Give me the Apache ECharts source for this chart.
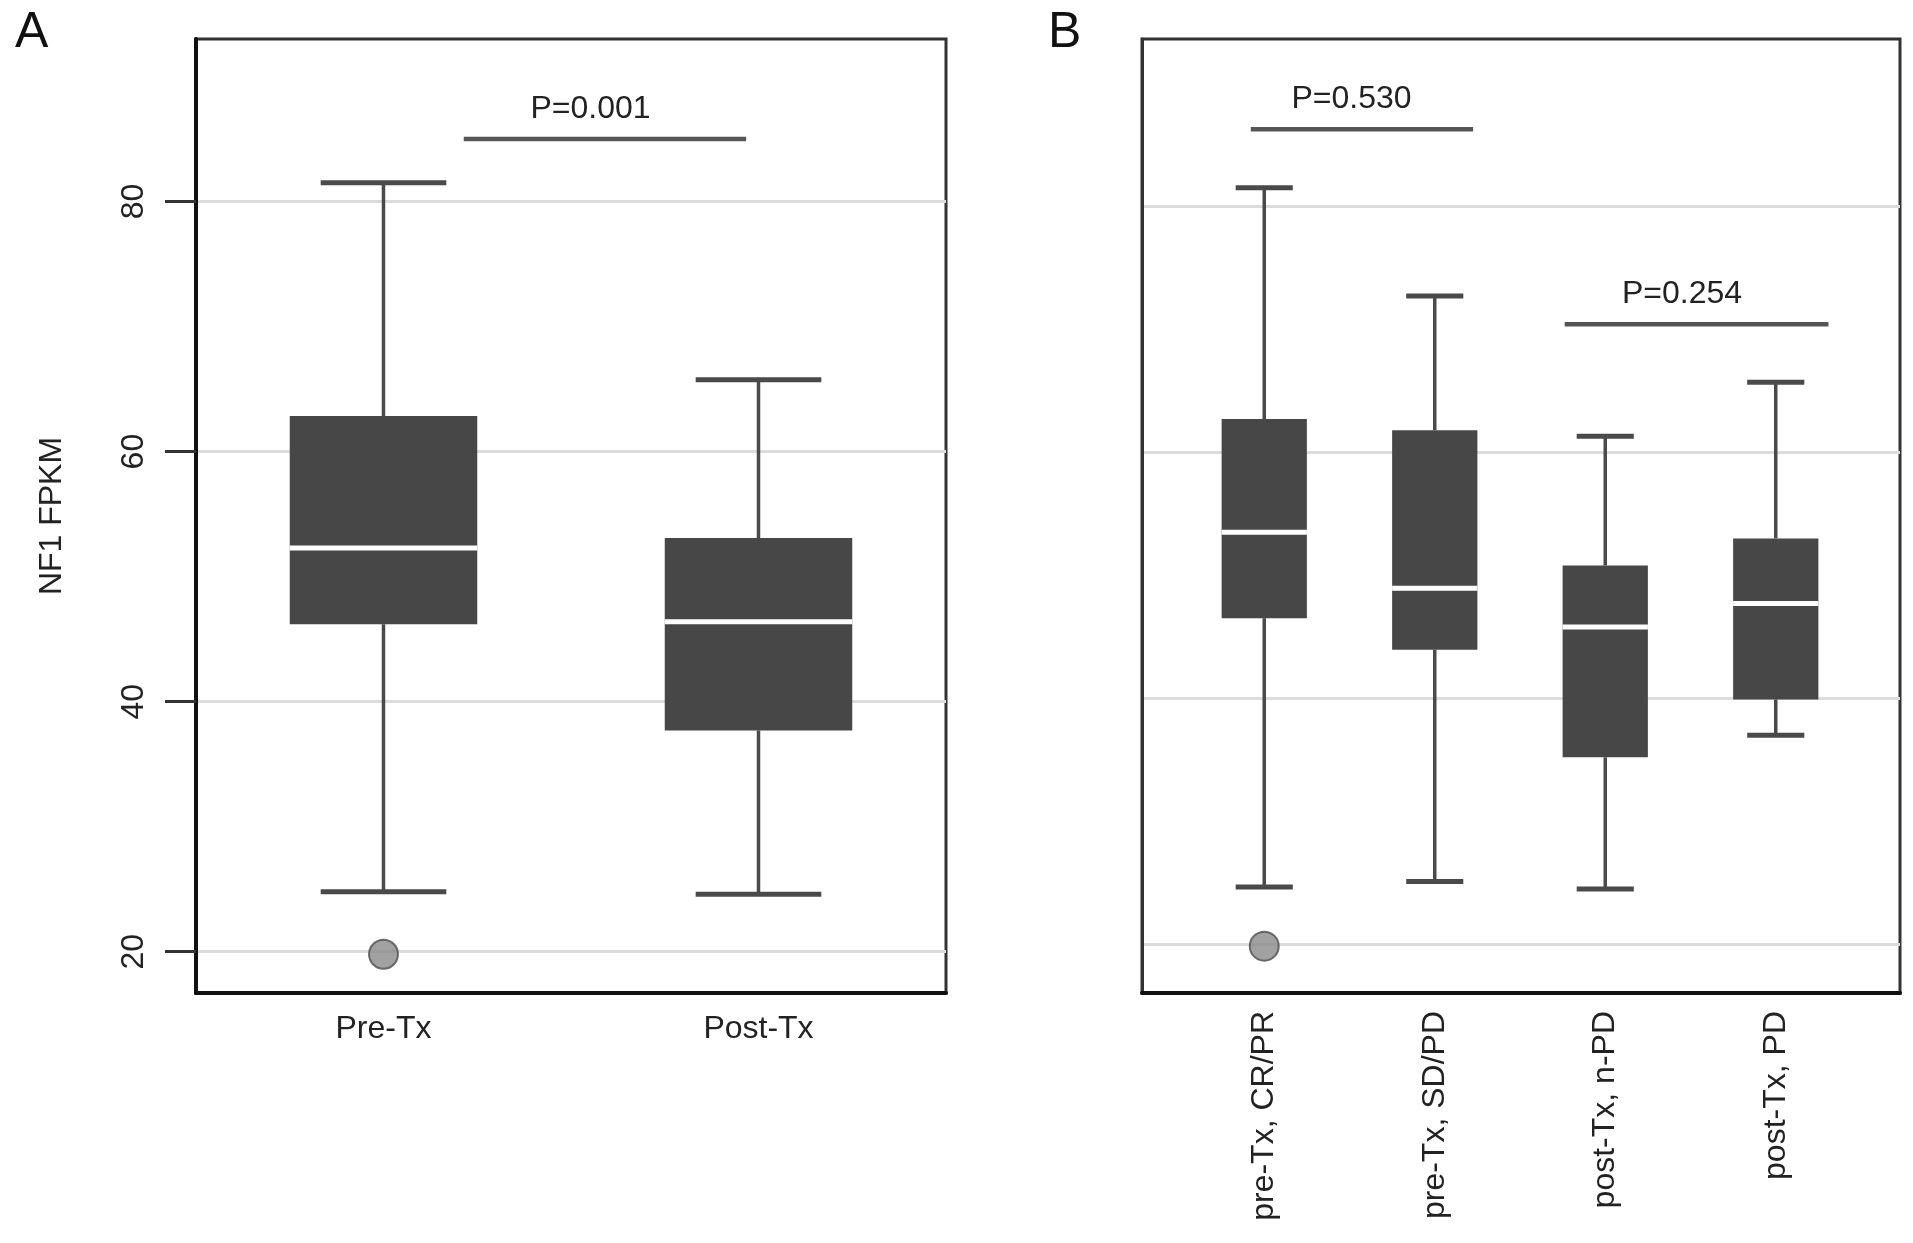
<!DOCTYPE html>
<html><head><meta charset="utf-8">
<script src="https://cdn.jsdelivr.net/npm/echarts@6/dist/echarts.min.js"></script>
<style>html,body{margin:0;padding:0;background:#fff}#c{width:1913px;height:1243px}</style>
</head><body><div id="c"></div>
<script>
// ---------- data ----------
const categoriesA = ['Pre-Tx', 'Post-Tx'];
// [lower whisker, Q1, median, Q3, upper whisker]
const boxesA = [
  [24.8, 46.2, 52.3, 62.85, 81.5],
  [24.6, 37.7, 46.4, 53.1, 65.75]
];
const outliersA = [[0, 19.8]];

const categoriesB = ['pre-Tx, CR/PR', 'pre-Tx, SD/PD', 'post-Tx, n-PD', 'post-Tx, PD'];
const boxesB = [
  [24.65, 46.5, 53.5, 62.7, 81.5],
  [25.1, 43.95, 48.95, 61.8, 72.7],
  [24.5, 35.2, 45.8, 50.8, 61.3],
  [37.0, 39.9, 47.7, 53.0, 65.7]
];
const outliersB = [[0, 19.85]];

const yTicks = [20, 40, 60, 80];

// significance bars: [start (category units), end (category units), y value, label centre (category units)]
const sigA = [[0.214, 0.967, 85.0, 0.552]];
const sigLabelsA = ['P=0.001'];
const sigB = [[-0.079, 1.225, 86.26, 0.512], [1.762, 3.309, 70.4, 2.45]];
const sigLabelsB = ['P=0.530', 'P=0.254'];

// ---------- rendering ----------
const FONT = '"Liberation Sans", Arial, Helvetica, sans-serif';
const DARK = '#474747';
const LINE = '#4a4a4a';

function renderBox(params, api) {
  const i = api.value(0);
  const lo = api.coord([i, api.value(1)]);
  const q1 = api.coord([i, api.value(2)]);
  const md = api.coord([i, api.value(3)]);
  const q3 = api.coord([i, api.value(4)]);
  const hi = api.coord([i, api.value(5)]);
  const band = api.size([1, 0])[0];
  const bw = band * 0.5, cw = band * 0.335;
  const x = lo[0];
  return {
    type: 'group',
    children: [
      { type: 'line', shape: { x1: x, y1: hi[1], x2: x, y2: q3[1] }, style: { stroke: LINE, lineWidth: 3.5 } },
      { type: 'line', shape: { x1: x, y1: q1[1], x2: x, y2: lo[1] }, style: { stroke: LINE, lineWidth: 3.5 } },
      { type: 'line', shape: { x1: x - cw / 2, y1: hi[1], x2: x + cw / 2, y2: hi[1] }, style: { stroke: LINE, lineWidth: 5 } },
      { type: 'line', shape: { x1: x - cw / 2, y1: lo[1], x2: x + cw / 2, y2: lo[1] }, style: { stroke: LINE, lineWidth: 5 } },
      { type: 'rect', shape: { x: x - bw / 2, y: q3[1], width: bw, height: q1[1] - q3[1] }, style: { fill: DARK } },
      { type: 'line', shape: { x1: x - bw / 2, y1: md[1], x2: x + bw / 2, y2: md[1] }, style: { stroke: '#ffffff', lineWidth: 5 } }
    ]
  };
}

function makeSigRenderer(labels) {
  return function (params, api) {
    const y = api.value(1);
    const base = api.coord([0, y]);
    const band = api.size([1, 0])[0];
    const x1 = base[0] + api.value(2) * band;
    const x2 = base[0] + api.value(3) * band;
    const xl = base[0] + api.value(4) * band;
    return {
      type: 'group',
      children: [
        { type: 'line', shape: { x1: x1, y1: base[1], x2: x2, y2: base[1] }, style: { stroke: '#555', lineWidth: 4.5 } },
        { type: 'text', style: { x: xl, y: base[1] - 30, text: labels[params.dataIndex], fill: '#222',
          font: '32px ' + FONT, textAlign: 'center', textVerticalAlign: 'middle', align: 'center', verticalAlign: 'middle' } }
      ]
    };
  };
}

const boxDataA = boxesA.map((b, i) => [i].concat(b));
const boxDataB = boxesB.map((b, i) => [i].concat(b));
const sigDataA = sigA.map(s => [0, s[2], s[0], s[1], s[3]]);
const sigDataB = sigB.map(s => [0, s[2], s[0], s[1], s[3]]);

const chart = echarts.init(document.getElementById('c'), null, { renderer: 'canvas' });

const splitLineStyle = { show: true, lineStyle: { color: '#dcdcdc', width: 3 } };

chart.setOption({
  animation: false,
  backgroundColor: '#ffffff',
  textStyle: { fontFamily: FONT },
  title: [
    { text: 'A', left: 10, top: 3, textStyle: { fontSize: 50, fontWeight: 'normal', color: '#111', fontFamily: FONT } },
    { text: 'B', left: 1043, top: 3, textStyle: { fontSize: 50, fontWeight: 'normal', color: '#111', fontFamily: FONT } }
  ],
  grid: [
    { left: 196, right: 967, top: 39, bottom: 250, show: true, borderColor: '#333', borderWidth: 3, backgroundColor: 'transparent' },
    { left: 1142, right: 13, top: 39, bottom: 250, show: true, borderColor: '#333', borderWidth: 3, backgroundColor: 'transparent' },
    { left: 1179, right: 52, top: 39, bottom: 250, show: false }
  ],
  xAxis: [
    { gridIndex: 0, type: 'category', data: categoriesA,
      axisLine: { show: true, onZero: false, lineStyle: { color: '#111', width: 4 } },
      axisTick: { show: false },
      axisLabel: { fontSize: 32, color: '#222', margin: 20, fontFamily: FONT },
      splitLine: { show: false } },
    { gridIndex: 1, type: 'value', min: 0, max: 1,
      axisLine: { show: true, onZero: false, lineStyle: { color: '#111', width: 4 } },
      axisTick: { show: false }, axisLabel: { show: false }, splitLine: { show: false } },
    { gridIndex: 2, type: 'category', data: categoriesB,
      axisLine: { show: false }, axisTick: { show: false },
      axisLabel: { fontSize: 32, color: '#222', margin: 18, rotate: 90, fontFamily: FONT, interval: 0 },
      splitLine: { show: false } }
  ],
  yAxis: [
    { gridIndex: 0, type: 'value', min: 16.7, max: 93.0,
      name: 'NF1 FPKM', nameLocation: 'middle', nameGap: 128, nameRotate: 90,
      nameTextStyle: { fontSize: 32, color: '#222', fontFamily: FONT },
      axisLine: { show: true, lineStyle: { color: '#111', width: 4 } },
      axisTick: { show: true, length: 31, customValues: yTicks, lineStyle: { color: '#333', width: 3 } },
      axisLabel: { show: true, customValues: yTicks, rotate: 90, margin: 46, fontSize: 32, color: '#222', fontFamily: FONT },
      splitLine: splitLineStyle },
    { gridIndex: 1, type: 'value', min: 16.04, max: 93.6,
      axisLine: { show: true, lineStyle: { color: '#333', width: 3 } },
      axisTick: { show: false, customValues: yTicks },
      axisLabel: { show: false, customValues: yTicks },
      splitLine: splitLineStyle },
    { gridIndex: 2, type: 'value', min: 16.04, max: 93.6, show: false,
      axisLine: { show: false }, axisTick: { show: false }, axisLabel: { show: false }, splitLine: { show: false } }
  ],
  series: [
    { type: 'custom', xAxisIndex: 0, yAxisIndex: 0, renderItem: renderBox, data: boxDataA,
      encode: { x: 0, y: [1, 2, 3, 4, 5] }, z: 3 },
    { type: 'scatter', xAxisIndex: 0, yAxisIndex: 0, data: outliersA, symbol: 'circle', symbolSize: 29,
      itemStyle: { color: '#8a8a8a', borderColor: '#4d4d4d', borderWidth: 2 }, z: 4 },
    { type: 'custom', xAxisIndex: 0, yAxisIndex: 0, renderItem: makeSigRenderer(sigLabelsA), data: sigDataA,
      encode: { x: 0, y: 1 }, z: 3 },
    { type: 'custom', xAxisIndex: 2, yAxisIndex: 2, renderItem: renderBox, data: boxDataB,
      encode: { x: 0, y: [1, 2, 3, 4, 5] }, z: 3 },
    { type: 'scatter', xAxisIndex: 2, yAxisIndex: 2, data: outliersB, symbol: 'circle', symbolSize: 29,
      itemStyle: { color: '#8a8a8a', borderColor: '#4d4d4d', borderWidth: 2 }, z: 4 },
    { type: 'custom', xAxisIndex: 2, yAxisIndex: 2, renderItem: makeSigRenderer(sigLabelsB), data: sigDataB,
      encode: { x: 0, y: 1 }, z: 3 }
  ]
});
</script>
</body></html>
